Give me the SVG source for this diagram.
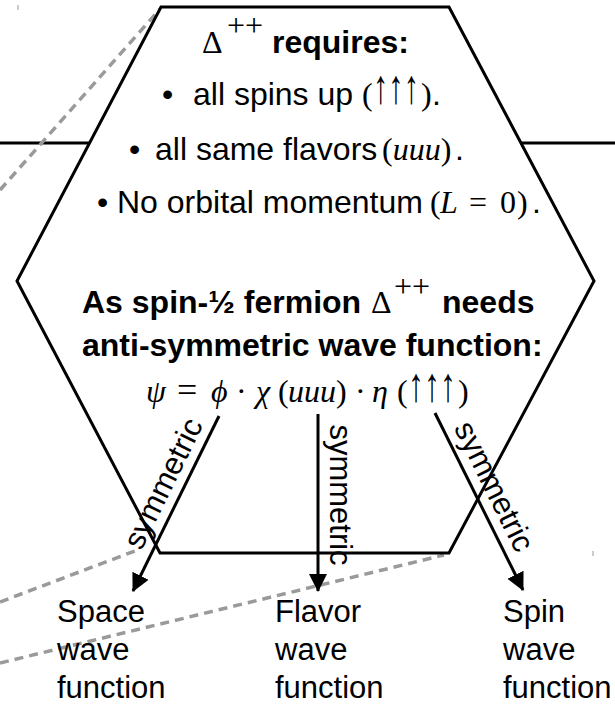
<svg xmlns="http://www.w3.org/2000/svg" width="615" height="707" viewBox="0 0 615 707">
<defs>
<style>
.sans{font-family:"Liberation Sans",Arial,sans-serif;font-size:32px;fill:#000}
.bold{font-weight:bold}
.math{font-family:"Liberation Serif","Times New Roman",serif;font-size:32px;fill:#000}
.it{font-style:italic}
.arr{font-family:"Liberation Serif","DejaVu Serif",serif;font-size:48px;fill:#000}
.lbl{font-family:"Liberation Sans",Arial,sans-serif;font-size:31px;fill:#000}
.dash{fill:none;stroke:#9a9a9a;stroke-width:3.5;stroke-dasharray:9 6}
.edge{fill:none;stroke:#000;stroke-width:3}
</style>
<marker id="ah" markerUnits="userSpaceOnUse" markerWidth="20" markerHeight="20" refX="17" refY="9" orient="auto">
<path d="M0,0 L18,9 L0,18 Z" fill="#000"/>
</marker>
</defs>
<g id="background">
<line x1="0" y1="143" x2="615" y2="143" stroke="#000" stroke-width="3"/>
<line class="dash" x1="0" y1="190" x2="160" y2="9"/>
<line class="dash" x1="0" y1="602" x2="140" y2="549"/>
<line class="dash" x1="0" y1="663" x2="444" y2="555"/>
<line x1="18" y1="5" x2="18" y2="10" stroke="#999" stroke-width="1"/>
<line x1="593" y1="551" x2="593" y2="556" stroke="#999" stroke-width="1"/>
</g>
<g id="hexagon">
<polygon points="161,7 449,7 594,281 449,553 160,553 17,281" fill="#fff" stroke="#000" stroke-width="3" stroke-linejoin="miter"/>
<text y="53"><tspan class="math" x="202">Δ</tspan><tspan class="math" x="227" y="36" font-size="22">++</tspan><tspan class="sans bold" x="272" y="53">requires:</tspan></text>
<text y="105"><tspan class="sans" x="162">•</tspan><tspan class="sans" x="193">all spins up</tspan><tspan class="math" x="362">(</tspan><tspan class="math" x="421">)</tspan><tspan class="sans" x="432">.</tspan></text>
<text class="arr" transform="translate(373,103) scale(0.5,1)" x="0" y="0" textLength="92" lengthAdjust="spacingAndGlyphs">↑↑↑</text>
<text y="160"><tspan class="sans" x="129">•</tspan><tspan class="sans" x="155">all same flavors</tspan><tspan class="math" x="382">(<tspan class="it">uuu</tspan>)</tspan><tspan class="sans" x="455">.</tspan></text>
<text y="213"><tspan class="sans" x="97">•</tspan><tspan class="sans" x="117">No orbital momentum</tspan><tspan class="math" x="430">(</tspan><tspan class="math it" x="440">L</tspan><tspan class="math" x="469">=</tspan><tspan class="math" x="500">0</tspan><tspan class="math" x="517">)</tspan><tspan class="sans" x="532">.</tspan></text>
<text y="313"><tspan class="sans bold" x="82">As spin-½ fermion</tspan><tspan class="math" x="371">Δ</tspan><tspan class="math" x="394" y="297" font-size="22">++</tspan><tspan class="sans bold" x="442" y="313">needs</tspan></text>
<text class="sans bold" x="82" y="356">anti-symmetric wave function:</text>
<text class="math" y="402"><tspan class="it" x="146">ψ</tspan><tspan x="177" font-size="36">=</tspan><tspan class="it" x="211">ϕ</tspan><tspan x="236">·</tspan><tspan class="it" x="256">χ</tspan><tspan x="278">(</tspan><tspan class="it" x="288">uuu</tspan><tspan x="336">)</tspan><tspan x="355">·</tspan><tspan class="it" x="372">η</tspan><tspan x="397">(</tspan><tspan x="458">)</tspan></text>
<text class="arr" transform="translate(408,401) scale(0.5,1)" x="0" y="0" textLength="96" lengthAdjust="spacingAndGlyphs">↑↑↑</text>
</g>
<g id="connectors">
<line class="edge" x1="219" y1="416" x2="133" y2="591" marker-end="url(#ah)"/>
<line class="edge" x1="318" y1="414" x2="318" y2="591" marker-end="url(#ah)"/>
<line class="edge" x1="435" y1="413" x2="523" y2="590" marker-end="url(#ah)"/>
<text class="lbl" text-anchor="middle" transform="translate(172.5,488) rotate(-63.8)">symmetric</text>
<text class="lbl" text-anchor="middle" transform="translate(330,495) rotate(90)">symmetric</text>
<text class="lbl" text-anchor="middle" transform="translate(485,491) rotate(63.6)">symmetric</text>
</g>
<g id="space">
<text class="lbl" x="57" y="622">Space</text>
<text class="lbl" x="57" y="660">wave</text>
<text class="lbl" x="57" y="698">function</text>
</g>
<g id="flavor">
<text class="lbl" x="275" y="622">Flavor</text>
<text class="lbl" x="275" y="660">wave</text>
<text class="lbl" x="275" y="698">function</text>
</g>
<g id="spin">
<text class="lbl" x="503" y="622">Spin</text>
<text class="lbl" x="503" y="660">wave</text>
<text class="lbl" x="503" y="698">function</text>
</g>
</svg>
